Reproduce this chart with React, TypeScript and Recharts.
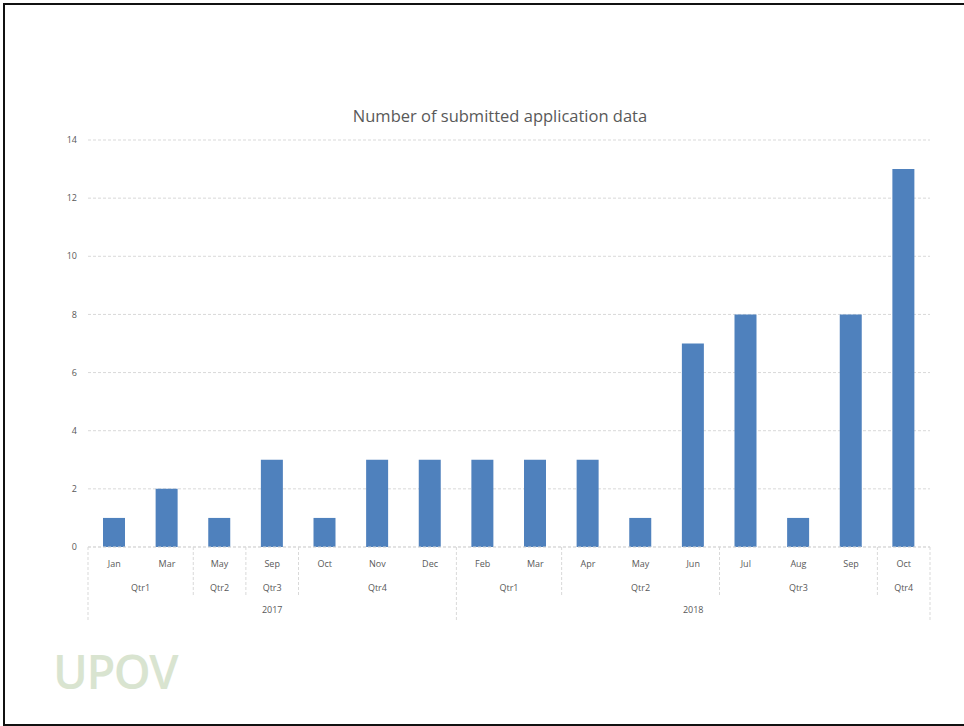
import { BarChart, Bar, XAxis, YAxis, CartesianGrid } from "recharts";

// categories (multi-level: month / quarter / year)
const months = ["Jan", "Mar", "May", "Sep", "Oct", "Nov", "Dec", "Feb", "Mar", "Apr", "May", "Jun", "Jul", "Aug", "Sep", "Oct"];
const quarters = ["Qtr1", "Qtr1", "Qtr2", "Qtr3", "Qtr4", "Qtr4", "Qtr4", "Qtr1", "Qtr1", "Qtr2", "Qtr2", "Qtr2", "Qtr3", "Qtr3", "Qtr3", "Qtr4"];
const years = ["2017", "2017", "2017", "2017", "2017", "2017", "2017", "2018", "2018", "2018", "2018", "2018", "2018", "2018", "2018", "2018"];
const submitted = [1, 2, 1, 3, 1, 3, 3, 3, 3, 3, 1, 7, 8, 1, 8, 13];
const yTicks = [0, 2, 4, 6, 8, 10, 12, 14];

const data = months.map((m, i) => ({ key: `${years[i]}-${quarters[i]}-${m}-${i}`, month: m, value: submitted[i] }));

const FONT = "'Open Sans', 'Noto Sans', sans-serif";
const TEXT = "#595959";
const LINE = "#d9d9d9";

const groupLength = (labels: string[], start: number) => {
    let n = 1;
    while (start + n < labels.length && labels[start + n] === labels[start] && years[start + n] === years[start]) n++;
    return n;
};

const MultiLevelTick = ({ x, y, index, payload }: any) => {
    const half = payload.offset || 0; // half of band width
    const left = x - half;
    const qStart = index === 0 || quarters[index] !== quarters[index - 1] || years[index] !== years[index - 1];
    const yStart = index === 0 || years[index] !== years[index - 1];
    const isLast = index === months.length - 1;
    const dash = "3 2";
    return (
        <g>
            <text x={x} y={y + 16} textAnchor="middle" dominantBaseline="central" fontSize={9} fill={TEXT} fontFamily={FONT}>
                {months[index]}
            </text>
            {qStart && (
                <>
                    <line x1={left} x2={left} y1={y} y2={yStart ? y + 73 : y + 48} stroke={LINE} strokeDasharray={dash} />
                    <text x={left + groupLength(quarters, index) * half} y={y + 40} textAnchor="middle" dominantBaseline="central" fontSize={9} fill={TEXT} fontFamily={FONT}>
                        {quarters[index]}
                    </text>
                </>
            )}
            {yStart && (
                <text x={left + groupLength(years, index) * half} y={y + 62} textAnchor="middle" dominantBaseline="central" fontSize={9} fill={TEXT} fontFamily={FONT}>
                    {years[index]}
                </text>
            )}
            {isLast && <line x1={x + half} x2={x + half} y1={y} y2={y + 73} stroke={LINE} strokeDasharray={dash} />}
        </g>
    );
};

export default function App() {
    return (
        <div
            style={{
                position: "absolute",
                left: 3,
                top: 3,
                width: 961,
                height: 723,
                boxSizing: "border-box",
                borderTop: "2px solid #111",
                borderLeft: "2px solid #111",
                borderBottom: "2px solid #111",
                background: "#fff",
                overflow: "hidden",
            }}
        >
            <div style={{ position: "absolute", left: -5, top: -5 }}>
                <BarChart
                    width={964}
                    height={726}
                    data={data}
                    margin={{ top: 140, right: 34, left: 58, bottom: 99 }}
                    barCategoryGap={0}
                >
                    <text x={500} y={115} textAnchor="middle" dominantBaseline="central" fontSize={16.5} fill={TEXT} fontFamily={FONT}>
                        Number of submitted application data
                    </text>
                    <CartesianGrid vertical={false} stroke={LINE} strokeDasharray="3 2" />
                    <YAxis
                        width={30}
                        domain={[0, 14]}
                        ticks={yTicks}
                        axisLine={false}
                        tickLine={false}
                        tickSize={0}
                        tickMargin={11}
                        tick={{ fontSize: 9, fill: TEXT, fontFamily: FONT }}
                    />
                    <XAxis
                        dataKey="key"
                        height={80}
                        interval={0}
                        tickLine={false}
                        tickSize={0}
                        tickMargin={0}
                        axisLine={{ stroke: LINE, strokeDasharray: "3 2" }}
                        tick={(p: any) => <MultiLevelTick {...p} />}
                    />
                    <Bar dataKey="value" fill="#4f81bd" barSize={22} isAnimationActive={false} />
                    <text x={53} y={671} dominantBaseline="central" fontSize={47} fontWeight={600} fill="#d9e4d0" fontFamily={FONT} letterSpacing={-1.5}>
                        UPOV
                    </text>
                </BarChart>
            </div>
        </div>
    );
}
